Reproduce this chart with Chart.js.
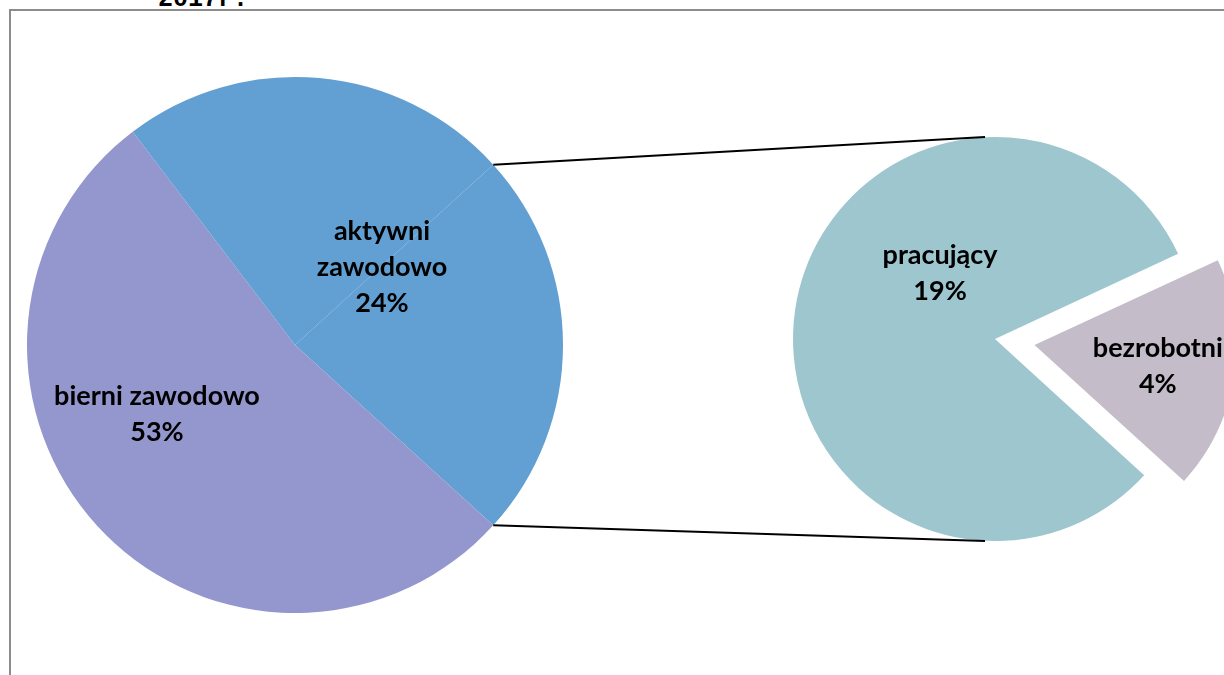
<!DOCTYPE html>
<html>
<head>
<meta charset="utf-8">
<script src="https://cdn.jsdelivr.net/npm/chart.js@4.4.1/dist/chart.umd.min.js"></script>
<style>
  body { margin: 0; background: #fff; }
  #wrap { position: relative; width: 1224px; height: 675px; overflow: hidden; }
  #wrap canvas { position: absolute; left: 0; top: 0; }
  .frame {
    position: absolute; left: 9px; top: 9px; width: 1400px; height: 900px;
    border-left: 2px solid #8c8c8c; border-top: 2px solid #8c8c8c;
  }
  .year {
    position: absolute; left: 158px; top: -13px;
    font: bold 25px/25px "Liberation Mono", monospace; color: #000;
  }
</style>
</head>
<body>
<div id="wrap">
  <div class="frame"></div>
  <div class="year">2017r.</div>
  <canvas id="mainPie" width="1224" height="675"></canvas>
  <canvas id="subPie" width="1224" height="675"></canvas>
</div>
<script>
"use strict";

// data ---------------
const subLabels = ["bezrobotni", "pracujący"];
const subValues = [4.4, 19.1];
const subColors = ["#C4BCC8", "#9EC6CE"];

const otherValue = subValues.reduce((a, b) => a + b, 0);
const mainLabels = ["", "bierni zawodowo", "aktywni zawodowo"];
const mainValues = [otherValue, 52.9, 23.6];
const mainColors = ["#629FD2", "#9497CE", "#629FD2"];

// label text lines + where to put them (angle in deg, share of radius)
const mainText = [null, ["bierni zawodowo"], ["aktywni", "zawodowo"]];
const mainSpots = [null, [153.4, 0.576], [-41.9, 0.436]];
const subText = [["bezrobotni"], ["pracujący"]];
const subSpots = [[9.5, 0.83], [-130, 0.423]];

const pct = (v) => Math.round(v) + "%";

// draws the black bold labels on each slice
const sliceLabels = {
  id: "sliceLabels",
  afterDatasetsDraw(chart, args, opts) {
    const ctx = chart.ctx;
    const arcs = chart.getDatasetMeta(0).data;
    const values = chart.data.datasets[0].data;
    ctx.save();
    ctx.font = "bold 27px Lato";
    ctx.fillStyle = "#000";
    ctx.textAlign = "center";
    ctx.textBaseline = "middle";
    arcs.forEach((arc, i) => {
      if (!opts.text[i]) return;
      const lines = opts.text[i].concat(pct(values[i]));
      const [deg, share] = opts.spots[i];
      const a = (deg * Math.PI) / 180;
      const cx = arc.x + Math.cos(a) * arc.outerRadius * share;
      const cy = arc.y + Math.sin(a) * arc.outerRadius * share;
      const lh = 36;
      const y0 = cy - ((lines.length - 1) * lh) / 2;
      lines.forEach((t, k) => ctx.fillText(t, cx, y0 + k * lh));
    });
    ctx.restore();
  },
};

// keep the exploded slice at the same radius as the rest
const sameRadius = {
  id: "sameRadius",
  afterUpdate(chart) {
    chart.getDatasetMeta(0).data.forEach((arc) => {
      const off = (arc.options.offset || 0) / 4;
      const fix = 1 - Math.sin(Math.min(Math.PI, arc.circumference));
      arc.outerRadius -= off * fix;
    });
  },
};

// main pie ---------
const otherDeg = (otherValue / mainValues.reduce((a, b) => a + b, 0)) * 360;
const mainChart = new Chart(document.getElementById("mainPie"), {
  type: "pie",
  data: {
    labels: mainLabels,
    datasets: [{ data: mainValues, backgroundColor: mainColors, borderWidth: 0 }],
  },
  options: {
    responsive: false,
    animation: false,
    rotation: 90 - otherDeg / 2,
    radius: 268,
    layout: { padding: { left: 27, right: 661, top: 77, bottom: 62 } },
    plugins: {
      legend: { display: false },
      tooltip: { enabled: false },
      sliceLabels: { text: mainText, spots: mainSpots },
    },
  },
  plugins: [sliceLabels],
});

// connector lines from the "other" slice to the second pie
const connectors = {
  id: "connectors",
  afterDraw(chart) {
    const other = mainChart.getDatasetMeta(0).data[0];
    const sub = chart.getDatasetMeta(0).data[1];
    const ctx = chart.ctx;
    const ends = [
      [other.startAngle, sub.y - sub.outerRadius],
      [other.endAngle, sub.y + sub.outerRadius],
    ];
    ctx.save();
    ctx.strokeStyle = "#000";
    ctx.lineWidth = 2;
    ends.forEach(([ang, ty]) => {
      ctx.beginPath();
      ctx.moveTo(other.x + Math.cos(ang) * other.outerRadius, other.y + Math.sin(ang) * other.outerRadius);
      ctx.lineTo(sub.x - 10, ty);
      ctx.stroke();
    });
    ctx.restore();
  },
};

// second pie ---------
new Chart(document.getElementById("subPie"), {
  type: "pie",
  data: {
    labels: subLabels,
    datasets: [{ data: subValues, backgroundColor: subColors, borderWidth: 0, offset: [160, 0] }],
  },
  options: {
    responsive: false,
    animation: false,
    rotation: 65,
    radius: 202,
    layout: { padding: { left: 793, right: 27, top: 137, bottom: 134 } },
    plugins: {
      legend: { display: false },
      tooltip: { enabled: false },
      sliceLabels: { text: subText, spots: subSpots },
    },
  },
  plugins: [sameRadius, sliceLabels, connectors],
});
</script>
</body>
</html>
